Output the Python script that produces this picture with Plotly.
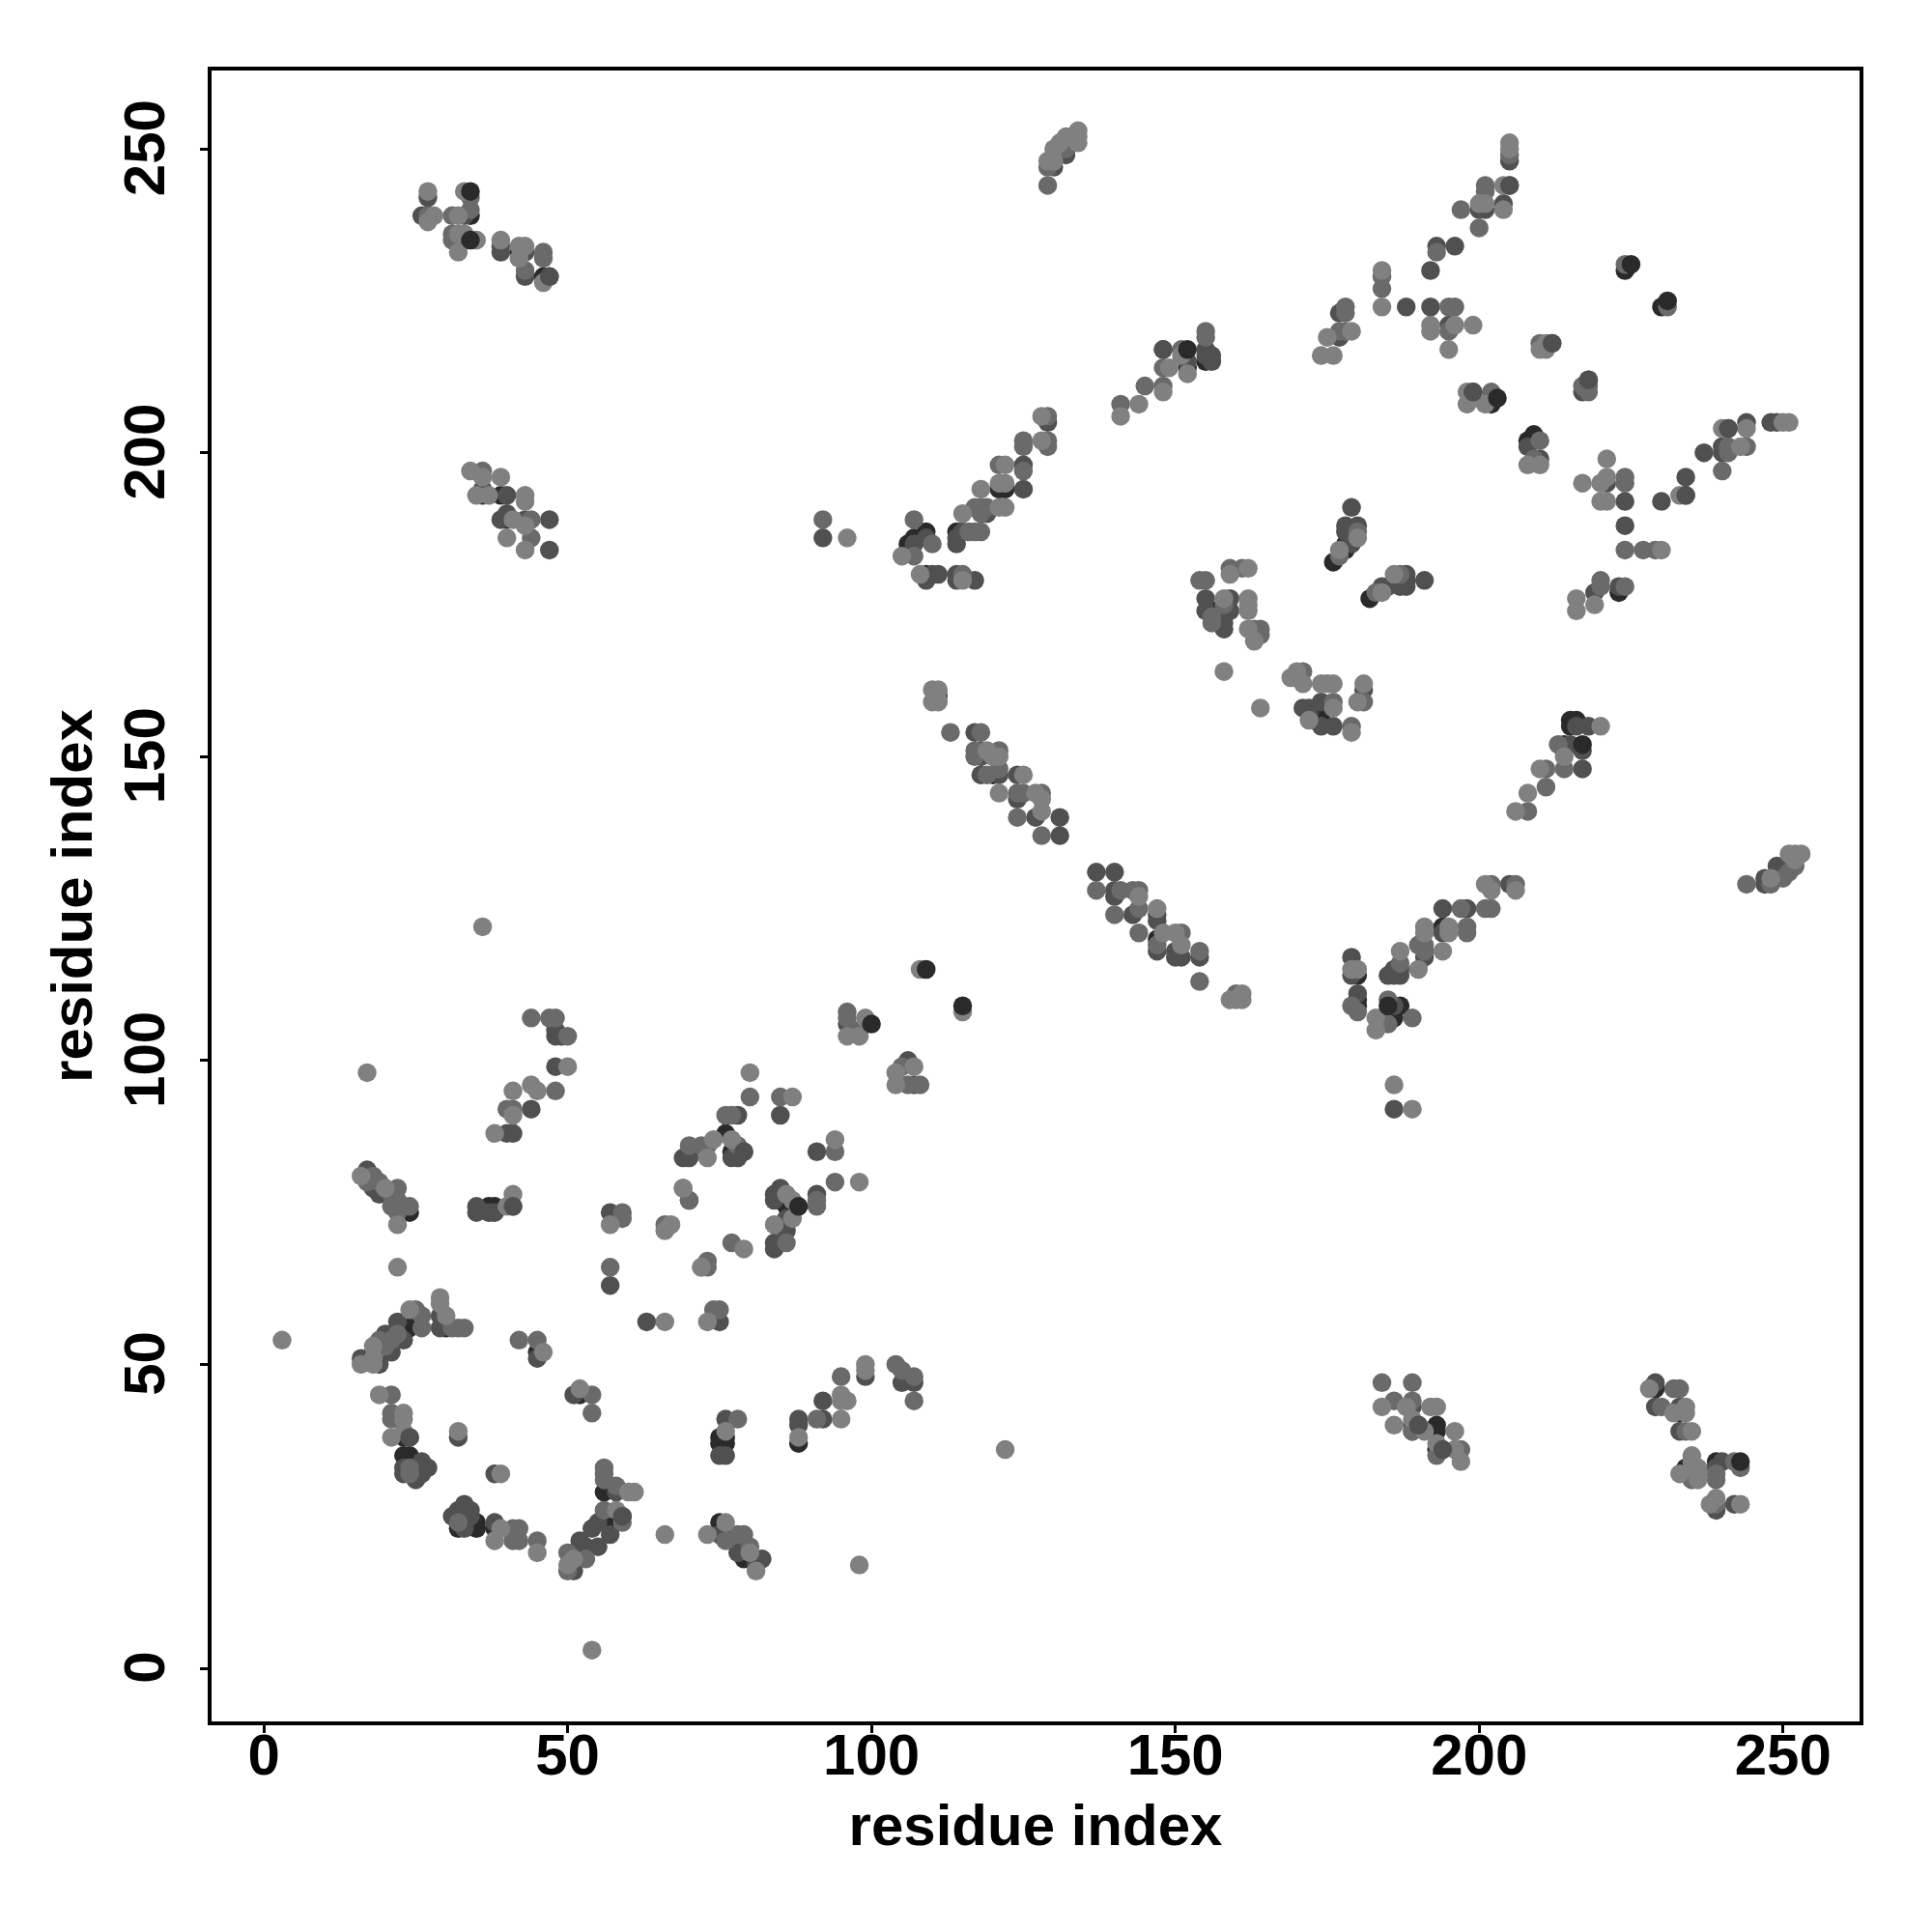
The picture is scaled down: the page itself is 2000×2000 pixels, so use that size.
import plotly.graph_objects as go

ticks = [0, 50, 100, 150, 200, 250]
axis_title = "residue index"

dark_points = [
(23,76),(24,75),(37,76),(38,76),(23,55),(24,56),(25,57),(30,56),(45,52),(52,45),(23,38),(23,35),(24,35),(32,23),(35,24),(35,23),(38,23),
(56,29),(58,24),(56,24),(76,38),(75,38),(76,37),(75,37),(88,37),(75,24),(79,18),(76,88),(77,85),(86,76),(120,147),(147,120),(173,156),
(174,157),(174,156),(180,114),(180,110),(180,109),(185,108),(187,109),(186,107),(185,107),(194,122),(215,156),(216,156),(215,155),(214,152),
(208,202),(209,203),(202,208),(224,230),(230,224),(179,187),(178,185),(178,184),(176,182),(187,179),(186,179),(182,176),(223,177),(121,194),
(122,194),(107,186),(106,185),(109,187),(109,180),(114,187),(152,214),(155,215),(156,174),(158,174),(157,174),(193,40),(193,39),(193,36),
(229,46),(233,42),(239,34),(42,233),(46,229),(34,239),(36,193),(39,193),(40,189),(234,33),
]

deep_points = [
(17,82),(18,79),(19,78),(35,76),(35,75),(37,75),(38,75),(41,76),(57,75),(57,63),(63,57),(75,57),(16,51),(19,50),(21,52),(20,55),(22,57),(23,54),
(29,58),(29,56),(45,51),(32,38),(24,38),(23,33),(23,32),(25,31),(26,34),(27,33),(26,32),(25,33),(38,32),(31,25),(32,26),(33,27),(34,26),(33,23),
(34,25),(38,24),(51,16),(52,21),(51,19),(53,20),(52,20),(54,23),(55,20),(55,24),(57,22),(59,25),(58,29),(51,45),(76,41),(75,35),(76,35),(88,41),
(88,40),(92,44),(99,48),(105,47),(107,47),(69,84),(70,84),(78,84),(77,84),(79,85),(91,85),(85,91),(78,91),(85,79),(84,78),(84,77),(91,78),(86,74),
(86,72),(84,70),(84,69),(106,100),(107,96),(96,106),(44,92),(48,105),(48,104),(49,104),(48,99),(40,88),(41,88),(111,160),(117,154),(118,151),(118,150),
(118,147),(121,147),(124,147),(124,143),(131,140),(127,140),(131,137),(137,131),(140,131),(140,128),(140,127),(143,124),(147,124),(147,123),(147,118),
(150,118),(151,117),(150,117),(154,117),(181,161),(171,158),(172,158),(174,159),(172,157),(174,155),(176,155),(216,155),(218,155),(215,152),(217,151),
(217,148),(205,129),(194,125),(198,125),(194,121),(191,117),(187,114),(185,114),(186,115),(186,114),(187,115),(179,117),(179,114),(180,111),(186,109),
(186,92),(247,129),(247,130),(249,132),(250,131),(205,248),(205,244),(200,240),(201,240),(204,241),(193,234),(196,234),(192,230),(188,224),(192,224),(195,221),
(177,223),(177,219),(212,218),(218,212),(217,210),(199,210),(208,201),(210,199),(221,195),(224,192),(224,188),(230,192),(234,193),(234,196),(237,200),
(240,201),(240,200),(241,204),(244,205),(248,205),(249,205),(179,191),(178,188),(180,188),(178,187),(179,185),(191,179),(188,180),(188,179),(185,178),
(188,178),(187,178),(184,178),(219,177),(223,178),(92,186),(107,185),(109,186),(111,180),(110,180),(109,179),(114,180),(114,179),(117,179),(114,186),
(114,185),(115,187),(119,190),(125,198),(125,194),(129,205),(148,217),(152,215),(155,217),(155,216),(156,216),(156,215),(132,249),(130,247),(155,176),
(159,176),(155,174),(158,174),(159,174),(158,173),(158,172),(158,171),(189,43),(189,40),(190,40),(194,36),(229,47),(229,43),(233,43),(233,39),(240,34),
(239,33),(239,26),(242,27),(92,41),(27,242),(26,239),(33,239),(33,235),(32,235),(39,234),(39,233),(43,233),(43,229),(47,229),(36,194),(40,193),(39,189),
(40,190),(43,189),(47,189),(47,184),(75,22),(77,22),(78,19),(79,20),(81,17),(82,18),(189,39),
]

mid_points = [
(17,80),(18,81),(19,80),(21,78),(21,76),(22,79),(22,77),(22,75),(24,76),(57,66),(59,75),(59,74),(66,73),(70,77),(73,67),(73,66),(74,59),(75,59),
(20,53),(19,54),(21,54),(22,55),(25,59),(26,58),(26,56),(31,56),(32,56),(33,56),(42,54),(45,54),(54,45),(54,42),(21,45),(21,42),(21,41),(24,33),
(24,32),(32,24),(41,23),(42,23),(41,21),(42,21),(45,21),(50,19),(50,16),(53,18),(56,26),(59,24),(56,33),(56,32),(56,31),(58,30),(78,41),(91,41),
(95,48),(104,50),(105,49),(107,48),(107,44),(78,22),(79,22),(80,20),(76,21),(72,86),(73,86),(70,86),(78,86),(94,85),(94,80),(85,94),(80,94),(76,91),
(77,91),(70,77),(91,77),(91,76),(86,70),(77,70),(96,108),(96,107),(98,105),(105,99),(106,96),(108,96),(44,107),(47,107),(48,107),(50,104),(48,95),(40,92),
(41,92),(113,154),(118,154),(117,151),(117,150),(119,147),(121,151),(121,148),(124,144),(125,144),(128,144),(128,137),(124,140),(137,128),(141,128),
(143,128),(144,128),(140,124),(144,125),(144,121),(151,121),(147,119),(154,118),(154,113),(160,111),(171,164),(181,159),(176,159),(179,155),(213,152),
(214,148),(211,148),(211,145),(208,141),(202,129),(206,129),(197,125),(201,125),(202,125),(198,122),(198,121),(190,119),(191,119),(191,118),(187,116),
(179,109),(180,108),(185,110),(185,106),(189,107),(244,129),(248,129),(250,130),(251,131),(252,132),(205,249),(197,240),(201,244),(201,243),(200,237),
(193,233),(184,229),(184,227),(195,224),(196,224),(195,220),(178,224),(178,223),(178,220),(177,220),(224,231),(231,224),(210,218),(217,211),(218,211),
(218,210),(199,209),(202,210),(210,202),(209,199),(224,196),(224,195),(224,184),(227,184),(229,184),(241,201),(241,200),(240,197),(244,201),(180,187),
(177,183),(187,180),(183,177),(220,179),(220,178),(224,178),(92,189),(107,189),(110,185),(107,183),(115,180),(116,187),(117,187),(118,187),(117,191),
(118,191),(119,191),(118,190),(121,198),(125,197),(125,202),(125,201),(129,202),(129,201),(129,206),(141,208),(145,211),(148,211),(148,214),(151,217),
(155,220),(155,219),(129,244),(129,247),(132,250),(159,181),(161,181),(154,179),(155,179),(158,175),(156,173),(156,172),(163,171),(164,171),(164,170),
(184,47),(189,47),(186,44),(189,44),(189,39),(193,35),(197,36),(232,46),(233,46),(230,43),(234,39),(235,31),(243,33),(242,34),(239,32),(239,31),(239,27),
(27,239),(34,242),(34,240),(31,239),(31,236),(31,235),(46,233),(46,232),(43,230),(36,197),(44,189),(44,186),
]

light_points = [
(3,54),(16,81),(20,79),(22,73),(22,66),(40,76),(41,78),(57,73),(66,72),(67,73),(69,79),(72,66),(66,57),(73,57),(16,50),(18,51),(18,50),(18,53),(24,59),
(29,61),(29,60),(30,58),(46,52),(52,46),(19,45),(23,42),(23,41),(21,38),(23,39),(32,39),(39,32),(39,23),(38,21),(45,19),(50,17),(51,18),(58,26),(60,29),
(61,29),(54,3),(66,22),(73,22),(76,24),(80,19),(81,16),(76,39),(88,38),(95,44),(96,44),(95,41),(99,50),(99,49),(95,45),(122,36),(98,17),(36,122),(17,98),
(108,115),(115,108),(96,104),(98,104),(99,107),(104,98),(104,96),(107,99),(80,98),(87,94),(77,87),(74,87),(73,84),(94,87),(98,80),(69,79),(86,78),(87,77),
(87,74),(84,73),(79,69),(72,66),(41,95),(44,96),(45,95),(41,91),(50,99),(38,88),(110,161),(111,161),(110,159),(111,159),(119,151),(121,150),(120,150),
(125,147),(121,144),(127,144),(128,143),(128,141),(144,127),(147,125),(148,121),(150,121),(151,119),(159,110),(161,111),(160,110),(161,110),(158,164),
(164,158),(169,163),(170,164),(171,162),(174,162),(175,162),(176,162),(181,162),(180,159),(176,158),(172,156),(179,154),(220,155),(214,150),(210,148),
(208,144),(206,141),(201,129),(202,128),(206,128),(191,122),(191,121),(195,122),(195,121),(194,118),(190,115),(187,118),(179,115),(180,115),(183,107),(183,105),
(186,96),(189,92),(248,130),(251,134),(252,134),(253,134),(252,133),(205,251),(205,250),(204,244),(200,241),(201,241),(204,240),(184,230),(184,224),(192,221),
(192,220),(196,221),(199,221),(195,217),(179,220),(175,219),(174,216),(176,216),(210,217),(211,217),(211,218),(198,210),(198,208),(201,208),(208,198),(210,198),
(221,199),(217,195),(220,195),(221,196),(220,192),(221,192),(230,184),(233,193),(240,204),(243,201),(244,204),(250,205),(251,205),(180,186),(177,184),(186,180),
(184,177),(219,175),(216,176),(216,174),(96,186),(105,183),(108,180),(115,179),(115,190),(121,191),(122,191),(118,194),(122,198),(121,195),(122,195),(128,202),
(128,206),(141,206),(144,208),(148,210),(149,214),(151,216),(152,213),(129,248),(130,248),(130,250),(131,251),(132,252),(134,253),(134,252),(134,251),(133,252),
(159,180),(162,181),(158,176),(162,176),(162,175),(162,174),(162,171),(163,169),(184,43),(188,43),(192,43),(193,43),(186,40),(189,41),(191,39),(193,37),(196,39),
(196,36),(197,34),(228,46),(232,42),(234,43),(234,42),(235,39),(235,35),(235,34),(233,32),(236,33),(236,32),(236,31),(238,27),(239,28),(243,27),(27,243),(28,239),
(27,238),(33,243),(32,239),(32,236),(33,236),(32,233),(35,235),(39,235),(42,234),(43,234),(42,232),(46,228),(34,197),(36,196),(39,196),(35,193),(37,193),(43,193),
(43,192),(41,189),(43,188),(40,186),(43,184),
]

top_dark_points = [
(109,115),(115,109),(100,106),(88,76),(152,217),(203,209),(225,231),(231,225),(243,34),(34,243),(217,152),(34,235),(185,109),
]

top_deep_points = [
(205,244),(212,218),(218,212),(47,229),(234,193),(241,204),(79,85),(59,25),(194,36),(190,40),(41,76),(24,38),(148,217),(199,210),
]

layers = [
    (dark_points, "#2a2a2a"),
    (deep_points, "#505050"),
    (mid_points, "#6a6a6a"),
    (light_points, "#808080"),
    (top_deep_points, "#505050"),
    (top_dark_points, "#2a2a2a"),
]

fig = go.Figure()
for pts, col in layers:
    fig.add_trace(go.Scatter(
        x=[p[0] for p in pts], y=[p[1] for p in pts], mode="markers",
        marker=dict(size=19.5, color=col, line=dict(width=0)), showlegend=False,
    ))

bold = dict(family="Liberation Sans", size=60, color="black", weight="bold")
axis = dict(
    tickvals=ticks, ticktext=[str(t) for t in ticks], showgrid=False, zeroline=False,
    showline=True, mirror=True, linecolor="black", linewidth=4, ticks="outside", ticklen=8, tickwidth=3,
    tickcolor="black", tickfont=bold,
)
fig.update_layout(
    width=2000, height=2000, autosize=False,
    margin=dict(l=219, r=75, t=73, b=218, pad=0),
    plot_bgcolor="white", paper_bgcolor="white", showlegend=False,
    font=dict(family="Liberation Sans", size=60, color="black"),
    xaxis=dict(axis, range=[-8.6, 262.6], ticklabelstandoff=-29, title=dict(text=axis_title, font=bold, standoff=20)),
    yaxis=dict(axis, range=[-8.74, 262.9], tickangle=-90, ticklabelstandoff=13, ticklabelshift=8,
               title=dict(text=axis_title, font=bold, standoff=2)),
)
fig.write_html("out.html", config={"displayModeBar": False}, post_script="document.body.style.margin='0';")
